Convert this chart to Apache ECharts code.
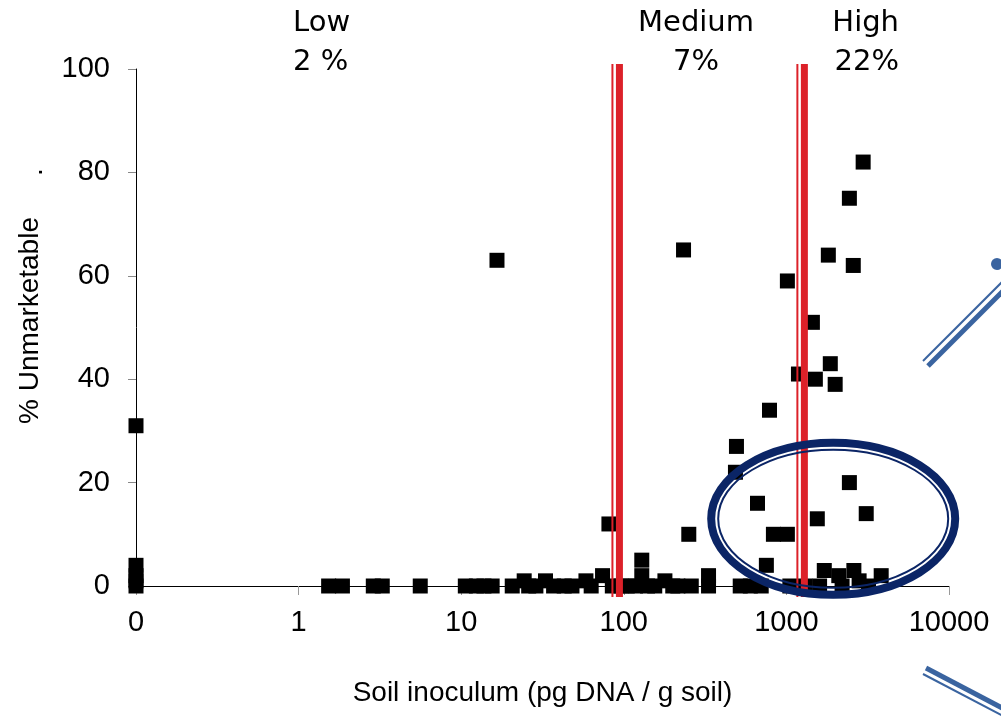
<!DOCTYPE html>
<html>
<head>
<meta charset="utf-8">
<title>Soil inoculum vs % unmarketable</title>
<script src="https://cdn.jsdelivr.net/npm/echarts@6/dist/echarts.min.js"></script>
<style>
  html, body { margin: 0; padding: 0; background: #fff; }
  #chart { width: 1001px; height: 717px; }
</style>
</head>
<body>
<div id="chart"></div>
<script>
// soil inoculum (pg DNA / g soil); 0 is plotted at 0.1 on the log axis
var inoculum = [
  0.1, 0.1, 0.1, 0.1, 0.1,
  1.53, 1.86, 2.88, 3.27, 5.6, 10.6, 12.4, 13.8, 15.5, 16.6,
  20.6, 24.4, 26, 28.8, 33, 37, 43, 48, 58.5, 63, 74, 81, 85,
  96, 105, 118, 129, 129, 140, 155, 179, 200, 215, 233, 251, 260, 332, 332,
  486, 493, 520, 600, 664, 700, 753, 787, 832, 1014, 1014, 1050, 1186,
  1300, 1445, 1507, 1549, 1600, 1710, 1811, 1862, 1995, 2100,
  2200, 2440, 2440, 2578, 2600, 2800, 2965, 3097, 3200, 3828
];
var unmarketable = [
  0, 1, 2, 4, 31,
  0, 0, 0, 0, 0, 0, 0, 0, 0, 63,
  0, 1, 0, 0, 1, 0, 0, 0, 1, 0, 2, 12, 0,
  0, 0, 0, 5, 2, 0, 0, 1, 0, 0, 65, 10, 0, 2, 0,
  22, 27, 0, 0, 16, 0, 4, 34, 10, 10, 59, 0, 41,
  0, 51, 40, 13, 0, 3, 64, 43, 39, 2,
  0, 20, 75, 62, 3, 1, 82, 14, 0, 2
];

var thresholds = [94, 1290];
var classNames = ['Low', 'Medium', 'High'];
var classRates = ['2 %', '7%', '22%'];
var highlightCenter = [1940, 13];

var red = '#dc2129';
var navy = '#0b2566';
var steel = '#3a64a0';

function renderThreshold(params, api) {
  var top = api.coord([api.value(0), 100]);
  var bottom = api.coord([api.value(0), 0]);
  var x = top[0];
  var y1 = top[1] - 5;
  var y2 = bottom[1] + 11;
  return {
    type: 'group',
    children: [
      { type: 'rect', shape: { x: x - 8, y: y1, width: 2, height: y2 - y1 }, style: { fill: red } },
      { type: 'rect', shape: { x: x - 3.5, y: y1, width: 7, height: y2 - y1 }, style: { fill: red } }
    ]
  };
}

function renderHighlight(params, api) {
  var c = api.coord([api.value(0), api.value(1)]);
  return {
    type: 'group',
    children: [
      { type: 'ellipse', shape: { cx: c[0], cy: c[1], rx: 122, ry: 76 }, style: { fill: 'none', stroke: navy, lineWidth: 8 } },
      { type: 'ellipse', shape: { cx: c[0], cy: c[1], rx: 115, ry: 69 }, style: { fill: 'none', stroke: navy, lineWidth: 2 } }
    ]
  };
}

var points = inoculum.map(function (x, i) { return [x, unmarketable[i]]; });

var chart = echarts.init(document.getElementById('chart'));

chart.setOption({
  animation: false,
  backgroundColor: '#fff',
  grid: { left: 136, right: 52, top: 69, bottom: 131 },
  xAxis: {
    type: 'log',
    logBase: 10,
    min: 0.1,
    max: 10000,
    name: 'Soil inoculum (pg DNA / g soil)',
    nameLocation: 'middle',
    nameGap: 93,
    nameTextStyle: { fontFamily: 'Liberation Sans', fontSize: 28, color: '#000' },
    axisLine: { lineStyle: { color: '#000', width: 1 } },
    axisTick: { length: 9, lineStyle: { color: '#999' } },
    axisLabel: {
      fontFamily: 'Liberation Sans',
      fontSize: 29,
      color: '#000',
      margin: 22,
      formatter: function (v) { return v < 1 ? '0' : String(Math.round(v)); }
    },
    splitLine: { show: false },
    minorTick: { show: false }
  },
  yAxis: {
    type: 'value',
    min: 0,
    max: 100,
    interval: 20,
    name: '% Unmarketable',
    nameLocation: 'middle',
    nameGap: 92,
    nameTextStyle: { fontFamily: 'Liberation Sans', fontSize: 28, color: '#000', padding: [0, 0, 0, 14] },
    axisLine: { show: true, lineStyle: { color: '#000', width: 1 } },
    axisTick: { show: true, length: 8, lineStyle: { color: '#888' } },
    axisLabel: { fontFamily: 'Liberation Sans', fontSize: 29, color: '#000', margin: 26 },
    splitLine: { show: false }
  },
  series: [
    {
      type: 'scatter',
      data: points,
      symbol: 'rect',
      symbolSize: 15,
      clip: false,
      itemStyle: { color: '#000', opacity: 1 },
      z: 2
    },
    {
      type: 'custom',
      data: thresholds.map(function (t) { return [t, 0]; }),
      renderItem: renderThreshold,
      encode: { x: 0, y: 1 },
      silent: true,
      z: 5
    },
    {
      type: 'custom',
      data: [highlightCenter],
      renderItem: renderHighlight,
      encode: { x: 0, y: 1 },
      silent: true,
      z: 6
    }
  ],
  graphic: [
    { type: 'text', x: 293, y: 4, style: { text: classNames[0] + '\n' + classRates[0], font: '29px "DejaVu Sans"', lineHeight: 39, fill: '#000', align: 'left', verticalAlign: 'top' } },
    { type: 'text', x: 696, y: 4, style: { text: classNames[1] + '\n' + classRates[1], font: '29px "DejaVu Sans"', lineHeight: 39, fill: '#000', align: 'center', verticalAlign: 'top' } },
    { type: 'text', x: 899, y: 4, style: { text: classNames[2] + '\n' + classRates[2], font: '29px "DejaVu Sans"', lineHeight: 39, fill: '#000', align: 'right', verticalAlign: 'top' } },
    { type: 'text', x: 48, y: 172, rotation: Math.PI / 2, style: { text: '.', font: '28px "Liberation Sans"', fill: '#000', align: 'center', verticalAlign: 'bottom' } },
    // callout lines running off the right edge
    { type: 'line', shape: { x1: 923, y1: 361, x2: 1003, y2: 281 }, style: { stroke: steel, lineWidth: 2 } },
    { type: 'line', shape: { x1: 928, y1: 366, x2: 1008, y2: 286 }, style: { stroke: steel, lineWidth: 5 } },
    { type: 'circle', shape: { cx: 997, cy: 264, r: 6 }, style: { fill: steel } },
    { type: 'line', shape: { x1: 926, y1: 668, x2: 1006, y2: 710 }, style: { stroke: steel, lineWidth: 5 } },
    { type: 'line', shape: { x1: 923, y1: 674, x2: 1003, y2: 716 }, style: { stroke: steel, lineWidth: 2 } }
  ]
});
</script>
</body>
</html>
